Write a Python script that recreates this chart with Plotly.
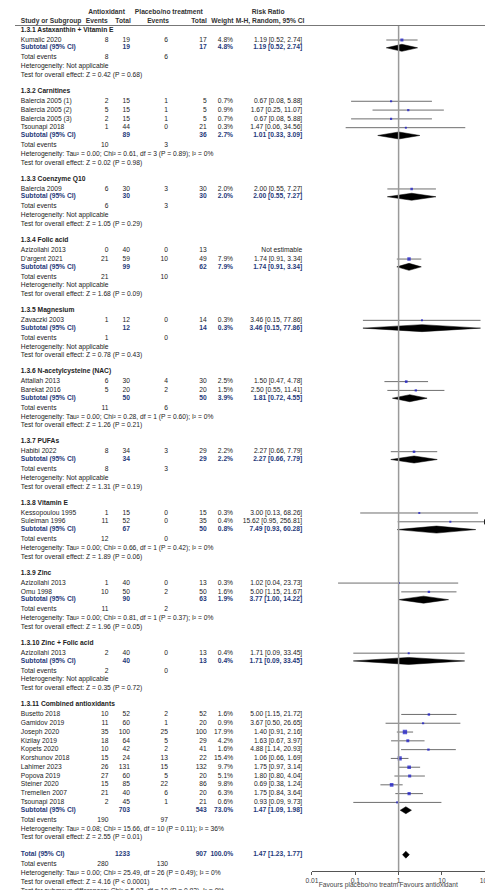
import plotly.graph_objects as go

# ---- data ----
groups = ["1.3.1 Astaxanthin + Vitamin E", "1.3.2 Carnitines", "1.3.3 Coenzyme Q10", "1.3.4 Folic acid",
          "1.3.5 Magnesium", "1.3.6 N-acetylcysteine (NAC)", "1.3.7 PUFAs", "1.3.8 Vitamin E",
          "1.3.9 Zinc", "1.3.10 Zinc + Folic acid", "1.3.11 Combined antioxidants"]

# study, antioxidant events, total, placebo events, total, weight, rr, lo, hi
studies = [
    [["Kumalic 2020", 8, 19, 6, 17, 4.8, 1.19, 0.52, 2.74]],
    [["Balercia 2005 (1)", 2, 15, 1, 5, 0.7, 0.67, 0.08, 5.88],
     ["Balercia 2005 (2)", 5, 15, 1, 5, 0.9, 1.67, 0.25, 11.07],
     ["Balercia 2005 (3)", 2, 15, 1, 5, 0.7, 0.67, 0.08, 5.88],
     ["Tsounapi 2018", 1, 44, 0, 21, 0.3, 1.47, 0.06, 34.56]],
    [["Balercia 2009", 6, 30, 3, 30, 2.0, 2.00, 0.55, 7.27]],
    [["Azizollahi 2013", 0, 40, 0, 13, None, None, None, None],
     ["D'argent 2021", 21, 59, 10, 49, 7.9, 1.74, 0.91, 3.34]],
    [["Zavaczki 2003", 1, 12, 0, 14, 0.3, 3.46, 0.15, 77.86]],
    [["Attallah 2013", 6, 30, 4, 30, 2.5, 1.50, 0.47, 4.78],
     ["Barekat 2016", 5, 20, 2, 20, 1.5, 2.50, 0.55, 11.41]],
    [["Habibi 2022", 8, 34, 3, 29, 2.2, 2.27, 0.66, 7.79]],
    [["Kessopoulou 1995", 1, 15, 0, 15, 0.3, 3.00, 0.13, 68.26],
     ["Suleiman 1996", 11, 52, 0, 35, 0.4, 15.62, 0.95, 256.81]],
    [["Azizollahi 2013", 1, 40, 0, 13, 0.3, 1.02, 0.04, 23.73],
     ["Omu 1998", 10, 50, 2, 50, 1.6, 5.00, 1.15, 21.67]],
    [["Azizollahi 2013", 2, 40, 0, 13, 0.4, 1.71, 0.09, 33.45]],
    [["Busetto 2018", 10, 52, 2, 52, 1.6, 5.00, 1.15, 21.72],
     ["Gamidov 2019", 11, 60, 1, 20, 0.9, 3.67, 0.50, 26.65],
     ["Joseph 2020", 35, 100, 25, 100, 17.9, 1.40, 0.91, 2.16],
     ["Kizilay 2019", 18, 64, 5, 29, 4.2, 1.63, 0.67, 3.97],
     ["Kopets 2020", 10, 42, 2, 41, 1.6, 4.88, 1.14, 20.93],
     ["Korshunov 2018", 15, 24, 13, 22, 15.4, 1.06, 0.66, 1.69],
     ["Lahimer 2023", 26, 131, 15, 132, 9.7, 1.75, 0.97, 3.14],
     ["Popova 2019", 27, 60, 5, 20, 5.1, 1.80, 0.80, 4.04],
     ["Steiner 2020", 15, 85, 22, 86, 9.8, 0.69, 0.38, 1.24],
     ["Tremellen 2007", 21, 40, 6, 20, 6.3, 1.75, 0.84, 3.64],
     ["Tsounapi 2018", 2, 45, 1, 21, 0.6, 0.93, 0.09, 9.73]],
]

# subtotal: total1, total2, weight, rr, lo, hi
subtotals = [[19, 17, 4.8, 1.19, 0.52, 2.74], [89, 36, 2.7, 1.01, 0.33, 3.09], [30, 30, 2.0, 2.00, 0.55, 7.27],
             [99, 62, 7.9, 1.74, 0.91, 3.34], [12, 14, 0.3, 3.46, 0.15, 77.86], [50, 50, 3.9, 1.81, 0.72, 4.55],
             [34, 29, 2.2, 2.27, 0.66, 7.79], [67, 50, 0.8, 7.49, 0.93, 60.28], [90, 63, 1.9, 3.77, 1.00, 14.22],
             [40, 13, 0.4, 1.71, 0.09, 33.45], [703, 543, 73.0, 1.47, 1.09, 1.98]]
events = [[8, 6], [10, 3], [6, 3], [21, 10], [1, 0], [11, 6], [8, 3], [12, 0], [11, 2], [2, 0], [190, 97]]
heterogeneity = ["Not applicable",
                 "Tau² = 0.00; Chi² = 0.61, df = 3 (P = 0.89); I² = 0%",
                 "Not applicable", "Not applicable", "Not applicable",
                 "Tau² = 0.00; Chi² = 0.28, df = 1 (P = 0.60); I² = 0%",
                 "Not applicable",
                 "Tau² = 0.00; Chi² = 0.66, df = 1 (P = 0.42); I² = 0%",
                 "Tau² = 0.00; Chi² = 0.81, df = 1 (P = 0.37); I² = 0%",
                 "Not applicable",
                 "Tau² = 0.08; Chi² = 15.66, df = 10 (P = 0.11); I² = 36%"]
overall = ["Z = 0.42 (P = 0.68)", "Z = 0.02 (P = 0.98)", "Z = 1.05 (P = 0.29)", "Z = 1.68 (P = 0.09)",
           "Z = 0.78 (P = 0.43)", "Z = 1.26 (P = 0.21)", "Z = 1.31 (P = 0.19)", "Z = 1.89 (P = 0.06)",
           "Z = 1.96 (P = 0.05)", "Z = 0.35 (P = 0.72)", "Z = 2.55 (P = 0.01)"]
total = [1233, 907, 100.0, 1.47, 1.23, 1.77]
total_events = [280, 130]
total_het = "Tau² = 0.00; Chi² = 25.49, df = 26 (P = 0.49); I² = 0%"
total_test = "Z = 4.16 (P < 0.0001)"
subgroup_test = "Chi² = 5.93, df = 10 (P = 0.82), I² = 0%"
ticks = [0.01, 0.1, 1, 10, 100]
tick_labels = ["0.01", "0.1", "1", "10", "100"]

FONT = "Liberation Sans"
FS = 6.7
BLUE = "#1f3a7a"

# ---- build rows (y in pixels from top) ----
left, right = [], []   # (x, y, text, color)
sq = []        # (rr, y, size)
ci = []        # (lo, hi, y)
diamonds = []  # (lo, rr, hi, y)

def fmt_ci(rr, lo, hi):
    return f"{rr:.2f} [{lo:.2f}, {hi:.2f}]"

def add_total_rows(y, vals, label, ev, het, test):
    left.append((6, y, f"<b>{label}</b>", BLUE))
    right.append((118, y, f"<b>{vals[0]}</b>", BLUE))
    right.append((197, y, f"<b>{vals[1]}</b>", BLUE))
    right.append((224, y, f"<b>{vals[2]:.1f}%</b>", BLUE))
    right.append((295, y, f"<b>{fmt_ci(*vals[3:6])}</b>", BLUE))
    diamonds.append((vals[4], vals[3], vals[5], y))
    y += 10
    left.append((6, y, "Total events", "#222"))
    right.append((96, y, str(ev[0]), "#222"))
    right.append((157, y, str(ev[1]), "#222"))
    y += 8.7
    left.append((6, y, "Heterogeneity: " + het, "#222"))
    y += 8.8
    left.append((6, y, "Test for overall effect: " + test, "#222"))
    return y

y = 22.0
for g, name in enumerate(groups):
    left.append((6, y, f"<b>{name}</b>", "#222"))
    y += 10
    for s in studies[g]:
        left.append((6, y, s[0], "#222"))
        for x, v in zip([96, 118, 157, 197], s[1:5]):
            right.append((x, y, str(v), "#222"))
        if s[5] is None:
            right.append((295, y, "Not estimable", "#222"))
        else:
            right.append((224, y, f"{s[5]:.1f}%", "#222"))
            right.append((295, y, fmt_ci(*s[6:9]), "#222"))
            sq.append((s[6], y, 1.6 + 0.65 * s[5] ** 0.5))
            ci.append((s[7], s[8], y))
        y += 8.8
    y -= 1.0
    y = add_total_rows(y, subtotals[g], "Subtotal (95% CI)", events[g], heterogeneity[g], overall[g])
    y += 16 if g < len(groups) - 1 else 17

y = add_total_rows(y, total, "Total (95% CI)", total_events, total_het, total_test)
y += 8.8
left.append((6, y, "Test for subgroup differences: " + subgroup_test, "#222"))

# squeeze rows so the last row lands where the reference puts it
k = (883 - 22) / (y - 22)
sy = lambda v: 22 + (v - 22) * k
left = [(a, sy(b), c, d) for a, b, c, d in left]
right = [(a, sy(b), c, d) for a, b, c, d in right]
sq = [(a, sy(b), c) for a, b, c in sq]
ci = [(a, b, sy(c)) for a, b, c in ci]
diamonds = [(a, b, c, sy(d)) for a, b, c, d in diamonds]

fig = go.Figure()

def text_trace(items, pos, **kw):
    fig.add_trace(go.Scatter(
        x=[i[0] for i in items], y=[i[1] for i in items], text=[i[2] for i in items],
        mode="text", textposition=pos, hoverinfo="skip",
        textfont=dict(family=FONT, size=FS, color=[i[3] for i in items]), **kw))

text_trace(left, "middle right")
text_trace(right, "middle left")

# headers
hdr_c = [(94, 4, "Antioxidant"), (158, 4, "Placebo/no treatment"), (260, 4, "Risk Ratio"),
         (84, 13, "Events"), (111, 13, "Total"), (147, 13, "Events"), (189, 13, "Total"),
         (213, 13, "Weight"), (262, 13, "M-H, Random, 95% CI"),
         (394, 4, "Risk Ratio"), (394, 13, "M-H, Random, 95% CI")]
text_trace([(h[0], h[1], f"<b>{h[2]}</b>", "#333") for h in hdr_c], "middle center")
text_trace([(6, 13, "<b>Study or Subgroup</b>", "#333")], "middle right")

# forest: CI lines
for lo, hi, yy in ci:
    fig.add_trace(go.Scatter(x=[lo, min(hi, 100)], y=[yy, yy], mode="lines", xaxis="x2",
                             line=dict(color="#6e6e6e", width=1), hoverinfo="skip"))
    if hi > 100:
        fig.add_trace(go.Scatter(x=[100], y=[yy], mode="markers", xaxis="x2",
                                 marker=dict(symbol="triangle-right", size=5, color="#222")))
fig.add_trace(go.Scatter(x=[s[0] for s in sq], y=[s[1] for s in sq], mode="markers", xaxis="x2",
                         marker=dict(symbol="square", size=[s[2] for s in sq], color="#1010c8",
                                     line=dict(width=0))))
for lo, rr, hi, yy in diamonds:
    fig.add_trace(go.Scatter(x=[lo, rr, hi, rr, lo], y=[yy, yy - 3.5, yy, yy + 3.5, yy], mode="lines",
                             xaxis="x2", fill="toself", fillcolor="black",
                             line=dict(color="black", width=0.5), hoverinfo="skip"))

# null line
fig.add_trace(go.Scatter(x=[1, 1], y=[17, 863], mode="lines", xaxis="x2",
                         line=dict(color="#9a9a9a", width=1.5), hoverinfo="skip"))
fig.add_trace(go.Scatter(x=[0.98, 1.05], y=[877, 877], text=["Favours placebo/no treatm", "Favours antioxidant"],
                         mode="text", xaxis="x2", textposition=["middle left", "middle right"],
                         textfont=dict(family=FONT, size=FS, color="#444"), hoverinfo="skip"))

fig.add_shape(type="line", xref="paper", yref="y", x0=0, x1=1, y0=17.5, y1=17.5,
              line=dict(color="#777", width=1.2))

fig.update_layout(
    width=493, height=890, showlegend=False,
    margin=dict(l=0, r=0, t=0, b=0),
    plot_bgcolor="white", paper_bgcolor="white",
    xaxis=dict(range=[0, 493], domain=[0, 1], visible=False),
    xaxis2=dict(type="log", range=[-2, 2], domain=[305 / 493, 483 / 493], anchor="free",
                position=1 - 863 / 890, showline=True, linecolor="#555", linewidth=1,
                ticks="outside", ticklen=3, tickcolor="#555", tickvals=ticks, ticktext=tick_labels,
                showgrid=False, zeroline=False,
                tickfont=dict(family=FONT, size=FS, color="#444")),
    yaxis=dict(range=[890, 0], visible=False),
)

fig.write_html("out.html")
